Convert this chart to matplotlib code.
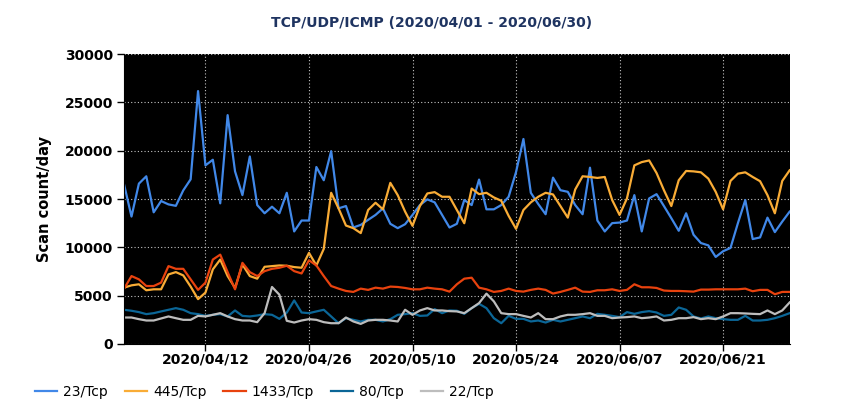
import pandas as pd
import matplotlib
matplotlib.use("Agg")
import matplotlib.pyplot as plt
import matplotlib.dates as mdates

dates = pd.date_range("2020-04-01", "2020-06-30", freq="D")

tcp23 = [16500, 13190, 16600, 17360, 13630, 14800, 14450, 14300, 15900, 17050, 26180, 18490, 19070, 14560, 23690,
         17870, 15410, 19410, 14380, 13530, 14210, 13530, 15650,
         11650, 12780, 12780, 18320, 16950, 19960, 14040, 14280, 12060, 12330, 12850, 13360, 14040, 12440, 11990,
         12400, 13360, 14380, 14970, 14660, 13360, 12060,
         12440, 14900, 14380, 17020, 13940, 13940, 14380, 15240, 17800, 21220, 15650, 14490, 13430, 17220, 15920,
         15750, 14380, 13430, 18250, 12780, 11650, 12510, 12570,
         12780, 15410, 11650, 15070, 15510, 14280, 13020, 11720, 13530, 11310, 10450, 10210, 9010, 9600, 9940,
         12500, 14900, 10860, 11030, 13080, 11580, 12670, 13700]
tcp445 = [5830, 6070, 6180, 5560, 5660, 5660, 7200, 7440, 7100, 5940, 4640, 5320, 7720, 8740, 7030, 5800, 8230,
          7030, 6760, 7990, 8060, 8130, 8100,
          7960, 7890, 9430, 8130, 9840, 15650, 14040, 12260, 11990, 11480, 13870, 14620, 13940, 16680, 15410,
          13700, 12230, 14280, 15580, 15720, 15240, 15240,
          13870, 12500, 16090, 15510, 15650, 15170, 14830, 13260, 11920, 13870, 14660, 15240, 15650, 15480, 14280,
          13080, 15990, 17360, 17290, 17190, 17290, 14900, 13360,
          15070, 18490, 18830, 19000, 17700, 15920, 14280, 16950, 17910, 17870, 17770, 17120, 15750, 13940, 16880,
          17630, 17770, 17290, 16850, 15410, 13530, 16880, 17980]
tcp1433 = [5730, 7030, 6690, 6000, 6000, 6350, 8060, 7780, 7780, 6690, 5600, 6350, 8740, 9250, 7440, 5660, 8400,
           7440, 7030, 7540, 7780, 7890, 8100,
           7540, 7300, 8670, 8130, 7030, 6000, 5730, 5490, 5390, 5730, 5600, 5830, 5730, 5940, 5900, 5800, 5660,
           5660, 5830, 5730, 5660, 5420,
           6180, 6760, 6860, 5830, 5660, 5390, 5490, 5730, 5490, 5420, 5600, 5730, 5600, 5220, 5390, 5600, 5830,
           5420, 5390, 5560, 5560, 5660, 5490,
           5600, 6180, 5870, 5870, 5800, 5530, 5490, 5490, 5460, 5420, 5630, 5630, 5660, 5660, 5660, 5660, 5730,
           5460, 5600, 5600, 5150, 5390, 5390]
tcp80 = [3540, 3440, 3300, 3090, 3190, 3370, 3540, 3710, 3540, 3190, 3090, 2910, 3020, 3090, 2850, 3470, 2910,
         2850, 2950, 3090, 3020, 2600, 3250,
         4510, 3260, 3190, 3370, 3540, 2850, 2150, 2670, 2500, 2330, 2500, 2500, 2330, 2570, 3020, 3090, 3190,
         2910, 2950, 3610, 3190, 3470,
         3440, 3120, 3710, 4160, 3710, 2670, 2150, 2910, 2600, 2600, 2330, 2430, 2220, 2500, 2330, 2500, 2670,
         2850, 2670, 3120, 3020, 2910, 2780,
         3300, 3120, 3300, 3400, 3260, 2910, 3020, 3780, 3540, 2850, 2640, 2850, 2670, 2570, 2500, 2500, 2910,
         2430, 2430, 2500, 2670, 2910, 3190]
tcp22 = [2740, 2740, 2570, 2430, 2430, 2640, 2850, 2670, 2500, 2500, 2910, 2850, 3020, 3190, 2850, 2570, 2430,
         2430, 2260, 3190, 5900, 5100, 2400,
         2220, 2430, 2570, 2500, 2260, 2150, 2150, 2740, 2330, 2080, 2430, 2500, 2500, 2430, 2330, 3540, 3020,
         3470, 3710, 3470, 3470, 3400,
         3370, 3190, 3710, 4230, 5210, 4410, 3190, 3090, 3090, 2910, 2740, 3190, 2570, 2570, 2850, 3020, 3020,
         3090, 3190, 2910, 2910, 2670, 2740,
         2780, 2850, 2670, 2740, 2850, 2430, 2500, 2670, 2670, 2780, 2570, 2670, 2570, 2850, 3190, 3190, 3160,
         3120, 3090, 3470, 3090, 3470, 4300]

series = [("23/Tcp", tcp23, "#4188e8"),
          ("445/Tcp", tcp445, "#f9ac36"),
          ("1433/Tcp", tcp1433, "#e8420e"),
          ("80/Tcp", tcp80, "#0b6697"),
          ("22/Tcp", tcp22, "#bdbdbd")]

tick_dates = pd.date_range("2020-04-12", "2020-06-30", freq="14D")

fig = plt.figure(figsize=(8.5, 4.2), dpi=100)
ax = fig.add_axes([0.146, 0.181, 0.783, 0.690])
ax.set_facecolor("black")

for name, vals, col in series:
    ax.plot(dates, vals, color=col, linewidth=1.6, label=name)

ax.set_xlim(dates[0], dates[-1])
ax.set_ylim(0, 30000)
ax.set_yticks(range(0, 30001, 5000))
ax.set_xticks(tick_dates)
ax.xaxis.set_major_formatter(mdates.DateFormatter("%Y/%m/%d"))

ax.grid(True, color="#c4c4c4", linestyle=(0, (1, 2)), linewidth=0.8)
for s in ["top", "right"]:
    ax.spines[s].set_visible(False)
ax.tick_params(axis="both", length=5, width=1, labelsize=10)
ax.tick_params(axis="x", pad=1)
ax.tick_params(axis="y", pad=3)
for lbl in ax.get_xticklabels() + ax.get_yticklabels():
    lbl.set_fontweight("bold")

ax.set_ylabel("Scan count/day", fontsize=10.5, fontweight="bold", labelpad=9)
fig.text(0.508, 0.945, "TCP/UDP/ICMP (2020/04/01 - 2020/06/30)", ha="center", va="center",
         fontsize=10, fontweight="bold", color="#1f3461")

fig.legend(loc="center left", bbox_to_anchor=(0.041, 0.067), ncol=5, frameon=False,
           fontsize=10, handlelength=1.6, handletextpad=0.45, columnspacing=1.2,
           borderpad=0, borderaxespad=0)

fig.savefig("out.png", dpi=100)
